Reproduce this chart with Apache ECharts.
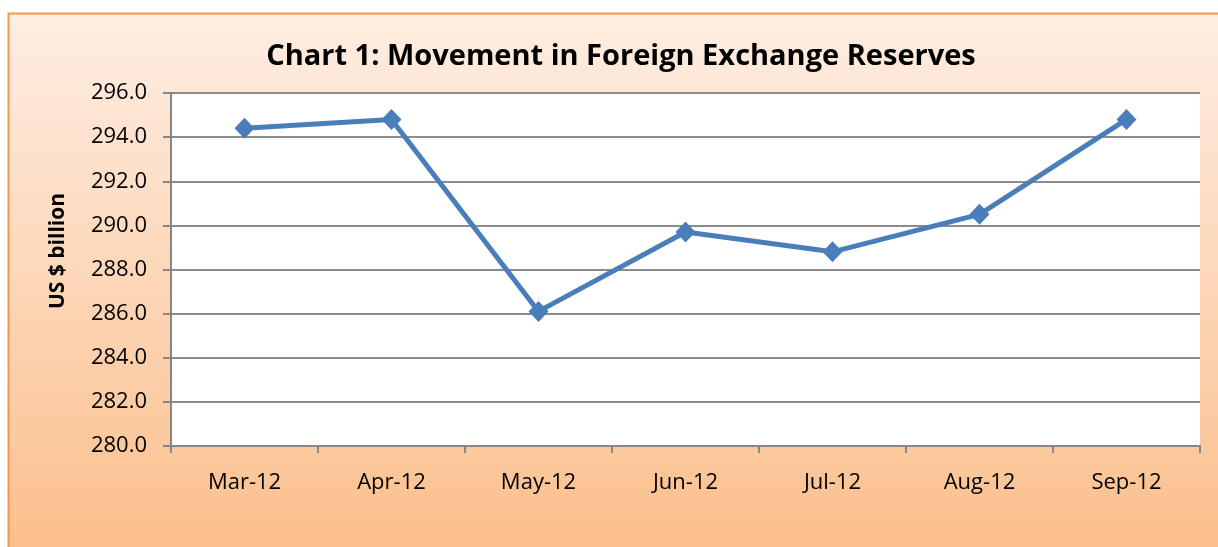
<!DOCTYPE html>
<html>
<head>
<meta charset="utf-8">
<script src="https://cdn.jsdelivr.net/npm/echarts@6/dist/echarts.min.js"></script>
<style>
  html, body { margin: 0; padding: 0; background: #fff; }
  #chart { width: 1218px; height: 547px; }
</style>
</head>
<body>
<div id="chart"></div>
<script>
var months = ['Mar-12', 'Apr-12', 'May-12', 'Jun-12', 'Jul-12', 'Aug-12', 'Sep-12'];
var reserves = [294.4, 294.8, 286.1, 289.7, 288.8, 290.5, 294.8];
var yTicks = [280, 296, 2];

function makeOption() {
    var option = {
        animation: false,
        graphic: [{
            type: 'rect',
            z: -10,
            shape: { x: 8.5, y: 13.5, width: 1230, height: 560 },
            style: {
                fill: new echarts.graphic.LinearGradient(0, 0, 0, 1, [
                    { offset: 0, color: '#FEEEE3' },
                    { offset: 1, color: '#FBBD88' }
                ]),
                stroke: '#F79646',
                lineWidth: 2
            }
        }, {
            // y axis title, placed by hand (sits a bit above the plot middle)
            type: 'text',
            x: 58,
            y: 251,
            rotation: Math.PI / 2,
            style: {
                text: 'US $ billion',
                fontFamily: 'Open Sans',
                fontWeight: 'bold',
                fontSize: 21,
                fill: '#000',
                align: 'center',
                verticalAlign: 'middle'
            }
        }],
        title: {
            text: 'Chart 1: Movement in Foreign Exchange Reserves',
            left: 616,
            top: 37,
            textAlign: 'center',
            textStyle: {
                fontFamily: 'Open Sans',
                fontWeight: 'bold',
                fontSize: 29,
                color: '#000'
            }
        },
        grid: {
            left: 171,
            top: 93,
            right: 18,
            bottom: 101,
            show: true,
            backgroundColor: '#fff',
            borderWidth: 0
        },
        xAxis: {
            type: 'category',
            data: months,
            boundaryGap: true,
            axisLine: { lineStyle: { color: '#868686', width: 2 } },
            axisTick: { show: true, length: 7, lineStyle: { color: '#868686', width: 2 } },
            axisLabel: {
                margin: 26,
                fontFamily: 'Open Sans',
                fontSize: 22,
                color: '#000'
            }
        },
        yAxis: {
            type: 'value',
            min: yTicks[0],
            max: yTicks[1],
            interval: yTicks[2],
            axisLine: { show: true, lineStyle: { color: '#868686', width: 2 } },
            axisTick: { show: true, length: 8, lineStyle: { color: '#868686', width: 2 } },
            axisLabel: {
                margin: 24,
                fontFamily: 'Open Sans',
                fontSize: 22,
                color: '#000',
                formatter: function (v) { return v.toFixed(1); }
            },
            splitLine: { show: true, lineStyle: { color: '#8C8C8C', width: 2 } }
        },
        series: [{
            type: 'line',
            data: reserves,
            symbol: 'path://M0,-1L1,0L0,1L-1,0Z',
            symbolSize: [20, 21],
            lineStyle: { color: '#4A7EBB', width: 5 },
            itemStyle: { color: '#4A7EBB' }
        }]
    };
    return option;
}

var myChart = echarts.init(document.getElementById('chart'));
myChart.setOption(makeOption());
</script>
</body>
</html>
